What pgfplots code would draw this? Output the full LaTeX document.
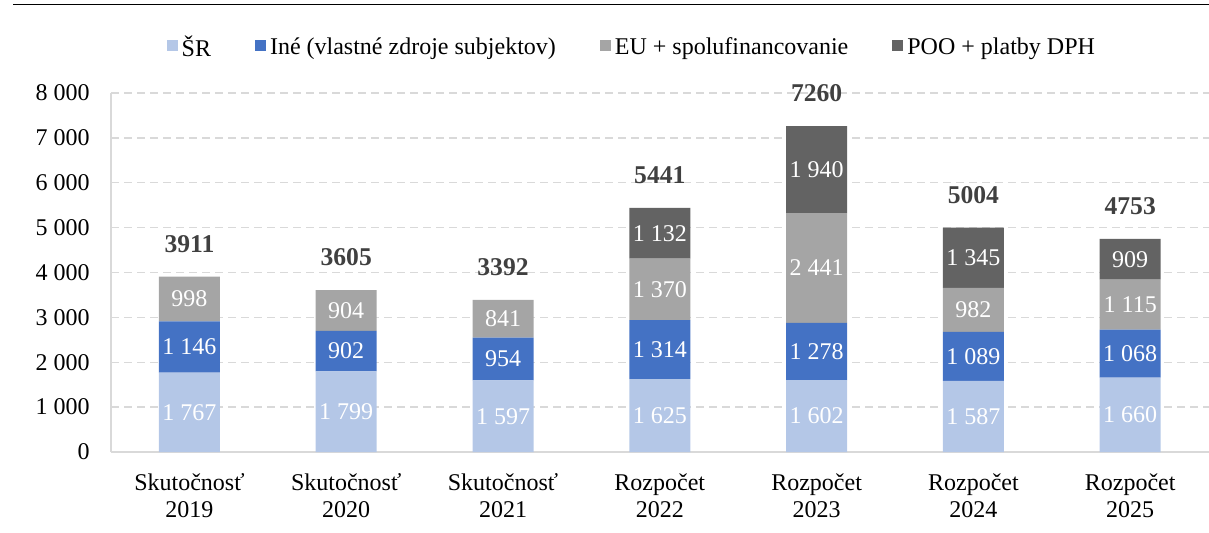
\documentclass[border=0pt]{standalone}
\usepackage{fontspec}
\setmainfont{Liberation Serif}
\usepackage{pgfplots}
\usepackage{pgfplotstable}
\pgfplotsset{compat=1.18}
\definecolor{cSR}{HTML}{B4C7E7}
\definecolor{cIne}{HTML}{4472C4}
\definecolor{cEU}{HTML}{A5A5A5}
\definecolor{cPOO}{HTML}{636363}
\definecolor{cGrid}{HTML}{D9D9D9}
\definecolor{cTot}{HTML}{404040}

\pgfplotstableread{
x sr ine eu poo total
0 1767 1146 998 0 3911
1 1799 902 904 0 3605
2 1597 954 841 0 3392
3 1625 1314 1370 1132 5441
4 1602 1278 2441 1940 7260
5 1587 1089 982 1345 5004
6 1660 1068 1115 909 4753
}\datatable

\pgfplotsset{
  seglabels/.style={
    point meta=explicit,
    visualization depends on={\thisrow{#1} \as \segv},
    nodes near coords={\ifdim\segv pt>0pt \pgfmathprintnumber{\pgfplotspointmeta}\fi},
    every node near coord/.style={anchor=center, text=white, font=\fontsize{12}{14}\selectfont, inner sep=0pt},
  },
  common/.style={
    at={(55.5pt,40pt)}, anchor=south west,
    scale only axis, width=548.8pt, height=179.5pt,
    xmin=-0.5, xmax=6.5, ymin=0, ymax=8000,
    bar width=30.5pt,
  },
}

\begin{document}
\begin{tikzpicture}
\useasboundingbox (0,0) rectangle (604.5pt,266pt);
\draw[line width=0.8pt] (6.5pt,263.75pt) -- (604.5pt,263.75pt);
\begin{axis}[
  common,
  ybar stacked,
  axis x line*=bottom, axis y line*=left,
  axis line style={draw=cGrid, line width=1pt, -},
  ymajorgrids, grid style={draw=cGrid, dash pattern=on 4pt off 2.5pt, line width=0.7pt},
  ytick={0,1000,...,8000},
  xtick={0,...,6},
  xticklabels={{Skutočnosť\\2019},{Skutočnosť\\2020},{Skutočnosť\\2021},{Rozpočet\\2022},{Rozpočet\\2023},{Rozpočet\\2024},{Rozpočet\\2025}},
  major tick length=0pt, tick style={draw=none},
  /pgf/number format/.cd, 1000 sep={\ }, assume math mode=true, /pgfplots/.cd,
  yticklabel style={inner sep=0pt, xshift=-10.5pt, font=\fontsize{12}{14}\selectfont},
  xticklabel style={inner sep=0pt, yshift=-10.5pt, align=center, font=\fontsize{12}{13.5}\selectfont},
  legend style={at={(0.5,1)}, anchor=south, yshift=12.5pt, xshift=-13.5pt, draw=none, fill=none,
    legend columns=-1, font=\fontsize{12}{14}\selectfont,
    /tikz/every even column/.append style={column sep=20pt}},
  legend image code/.code={\fill[#1] (0pt,-1.5pt) rectangle (5.5pt,4pt);},
]
\addplot[fill=cSR, draw=none, seglabels=sr] table[x=x, y=sr, meta=sr] {\datatable};
\addplot[fill=cIne, draw=none, seglabels=ine] table[x=x, y=ine, meta=ine] {\datatable};
\addplot[fill=cEU, draw=none, seglabels=eu] table[x=x, y=eu, meta=eu] {\datatable};
\addplot[fill=cPOO, draw=none, seglabels=poo] table[x=x, y=poo, meta=poo] {\datatable};
\legend{ŠR, Iné (vlastné zdroje subjektov), EU + spolufinancovanie, POO + platby DPH}
\end{axis}
\begin{axis}[
  common, ybar, hide axis,
  /pgf/number format/.cd, 1000 sep={}, assume math mode=true, /pgfplots/.cd,
]
\addplot[fill=none, draw=none, point meta=explicit,
  nodes near coords,
  every node near coord/.style={anchor=base, inner sep=0pt, yshift=12.2pt, text=cTot, font=\fontsize{12.8}{15}\selectfont\bfseries}]
  table[x=x, y=total, meta=total] {\datatable};
\end{axis}
\end{tikzpicture}
\end{document}
